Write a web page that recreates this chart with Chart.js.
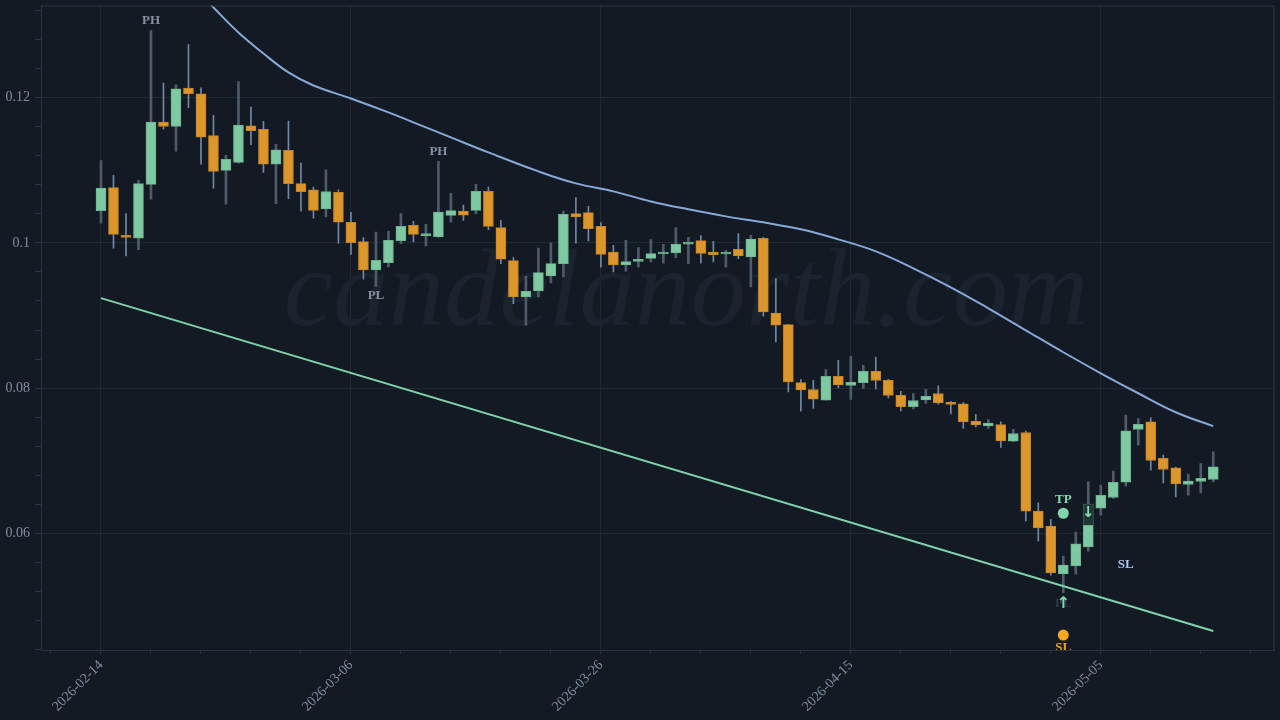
<!DOCTYPE html>
<html>
<head>
<meta charset="utf-8">
<script src="https://cdn.jsdelivr.net/npm/chart.js@4.4.1/dist/chart.umd.min.js"></script>
<style>
  html, body { margin: 0; padding: 0; background: #131a24; }
  #wrap { width: 1280px; height: 720px; }
</style>
</head>
<body>
<div id="wrap"><canvas id="chart" width="1280" height="720"></canvas></div>
<script>
// daily candles starting 2026-02-14 (x = day offset)
const startDate = "2026-02-14";

const open = [
  0.10443, 0.10759, 0.10099, 0.10066, 0.10804, 0.1166, 0.11601, 0.12128, 0.12051, 0.11474,
  0.10997, 0.11107, 0.11611, 0.1156, 0.11083, 0.11271, 0.10814, 0.10731, 0.10465, 0.10694,
  0.10282, 0.10016, 0.09626, 0.09728, 0.1003, 0.10241, 0.10099, 0.10085, 0.10378, 0.10437,
  0.10447, 0.10708, 0.10209, 0.09755, 0.09255, 0.09337, 0.09544, 0.09714, 0.10401, 0.10415,
  0.10227, 0.09874, 0.09695, 0.09746, 0.09787, 0.09846, 0.09863, 0.09983, 0.1003, 0.09874,
  0.09846, 0.09911, 0.09805, 0.10062, 0.09035, 0.08876, 0.08078, 0.07982, 0.07835, 0.08165,
  0.08037, 0.08078, 0.08234, 0.0811, 0.07904, 0.07748, 0.07839, 0.07927, 0.07807, 0.07787,
  0.07546, 0.07482, 0.07501, 0.07271, 0.07391, 0.06309, 0.06103, 0.05447, 0.05557, 0.05818,
  0.0635, 0.06497, 0.06708, 0.07432, 0.07537, 0.07034, 0.06904, 0.06676, 0.06717, 0.06745
];
const high = [
  0.1113, 0.10928, 0.10401, 0.10859, 0.12921, 0.12197, 0.12175, 0.12729, 0.12133, 0.11753,
  0.11203, 0.1222, 0.11867, 0.1167, 0.11354, 0.11674, 0.11097, 0.10767, 0.11006, 0.10731,
  0.10419, 0.10071, 0.10148, 0.10158, 0.10401, 0.10296, 0.10254, 0.1112, 0.1068, 0.1052,
  0.10804, 0.10767, 0.10309, 0.09797, 0.09539, 0.09928, 0.09997, 0.10437, 0.10621, 0.10502,
  0.10278, 0.09966, 0.10034, 0.09934, 0.10044, 0.09979, 0.10209, 0.10076, 0.10099, 0.10021,
  0.09897, 0.10126, 0.10103, 0.10076, 0.09508, 0.0888, 0.0812, 0.0811, 0.08257, 0.08385,
  0.0844, 0.08316, 0.08426, 0.08124, 0.07959, 0.07927, 0.07986, 0.08032, 0.0782, 0.07803,
  0.07642, 0.0757, 0.07537, 0.07436, 0.07409, 0.06423, 0.06195, 0.05691, 0.06021, 0.06712,
  0.06667, 0.06859, 0.07629, 0.07583, 0.07592, 0.07079, 0.06914, 0.06818, 0.06965, 0.07124
];
const low = [
  0.10272, 0.09928, 0.09819, 0.09906, 0.10602, 0.11564, 0.11262, 0.11858, 0.11083, 0.10753,
  0.10533, 0.11097, 0.1135, 0.10969, 0.10539, 0.10608, 0.10437, 0.10341, 0.10355, 0.09997,
  0.09842, 0.09502, 0.09402, 0.09668, 0.09989, 0.10011, 0.09956, 0.10076, 0.10286, 0.10309,
  0.10401, 0.10181, 0.09714, 0.09164, 0.08866, 0.09255, 0.09447, 0.0953, 0.09997, 0.10025,
  0.09667, 0.09599, 0.09612, 0.09667, 0.09736, 0.09722, 0.09797, 0.09714, 0.09722, 0.09736,
  0.09667, 0.09783, 0.09392, 0.0899, 0.08636, 0.07949, 0.07684, 0.07721, 0.07835, 0.08004,
  0.07845, 0.07996, 0.0799, 0.07867, 0.07688, 0.07715, 0.0779, 0.0778, 0.07647, 0.07446,
  0.07468, 0.07446, 0.07185, 0.07264, 0.06176, 0.05901, 0.05429, 0.05186, 0.05443, 0.05759,
  0.06254, 0.06484, 0.06653, 0.07216, 0.06873, 0.06698, 0.06506, 0.06529, 0.06561, 0.06712
];
const close = [
  0.10753, 0.10117, 0.10076, 0.10814, 0.1166, 0.11601, 0.1212, 0.12051, 0.11454, 0.10983,
  0.11148, 0.11619, 0.11542, 0.11083, 0.11281, 0.10814, 0.10704, 0.10447, 0.10704, 0.10286,
  0.10003, 0.09626, 0.09759, 0.10034, 0.10227, 0.10117, 0.10117, 0.10423, 0.10443, 0.10382,
  0.10708, 0.10227, 0.09777, 0.09255, 0.09333, 0.0959, 0.09714, 0.10392, 0.10355, 0.10195,
  0.09842, 0.09695, 0.09742, 0.09773, 0.09852, 0.09874, 0.09983, 0.10007, 0.09856, 0.09838,
  0.09869, 0.09819, 0.10052, 0.09049, 0.08866, 0.08087, 0.07977, 0.07849, 0.08165, 0.08045,
  0.08082, 0.08234, 0.08106, 0.079, 0.07748, 0.07831, 0.0789, 0.07798, 0.07776, 0.07537,
  0.07495, 0.07519, 0.07276, 0.07377, 0.06309, 0.0608, 0.05461, 0.05567, 0.0586, 0.06405,
  0.06525, 0.06705, 0.07413, 0.07505, 0.07006, 0.06882, 0.06684, 0.06722, 0.06759, 0.06918
];

// upper band (blue curve)
const bandDays = [7, 8, 9, 11, 13, 15, 17, 20, 23, 26, 28, 31, 35, 38, 41, 44, 47, 50, 53, 56, 59, 62, 65, 68, 71, 74, 77, 80, 83, 86, 89];
const bandValues = [
  0.13677, 0.13416, 0.13237, 0.12893, 0.12605, 0.12344, 0.12165, 0.11986, 0.11794, 0.11588,
  0.1145, 0.11244, 0.10983, 0.10818, 0.10708, 0.1057, 0.10461, 0.10364, 0.10282, 0.10186,
  0.10048, 0.09883, 0.0965, 0.09388, 0.091, 0.08797, 0.08495, 0.08206, 0.07931, 0.0767, 0.07478
];

// lower trend line
const trendDays = [0, 89];
const trendValues = [0.0924, 0.0466];

// markers
const pivotDays = [4, 27, 22];
const pivotTexts = ["PH", "PH", "PL"];
const tpDay = 77, tpValue = 0.0628;
const slDay = 77, slValue = 0.04605;
const exitDay = 79;
const slLabelDay = 82, slLabelValue = 0.0557;

const green = "#7fc9a2";
const orange = "#dc962c";

const days = open.map((_, i) => i);
const isUp = (i) => close[i] >= open[i];

function dayToDate(d) {
  const t = Date.parse(startDate + "T00:00:00Z") + d * 86400000;
  return new Date(t).toISOString().slice(0, 10);
}

const isMajorX = (v) => Math.abs(v % 20) < 1e-6;
const isMajorY = (v) => Math.abs(v / 0.02 - Math.round(v / 0.02)) < 1e-6;

const decorPlugin = {
  id: "decor",
  beforeDatasetsDraw(chart) {
    const ctx = chart.ctx;
    ctx.save();
    ctx.font = 'italic 111px "Liberation Serif"';
    ctx.fillStyle = "#1b242e";
    ctx.textAlign = "center";
    ctx.textBaseline = "alphabetic";
    ctx.fillText("candelanorth.com", 686, 325);
    ctx.restore();
  },
  afterDatasetsDraw(chart) {
    const { ctx, chartArea: a } = chart;
    const xs = chart.scales.x;
    const ys = chart.scales.y;
    ctx.save();
    ctx.beginPath();
    ctx.rect(a.left, a.top, a.right - a.left, a.bottom - a.top);
    ctx.clip();
    ctx.textAlign = "center";
    ctx.textBaseline = "middle";

    // pivots
    ctx.font = 'bold 13px "Liberation Serif"';
    ctx.fillStyle = "#8592a4";
    pivotDays.forEach((d, k) => {
      const x = xs.getPixelForValue(d);
      if (pivotTexts[k] === "PH") {
        ctx.fillText("PH", x, ys.getPixelForValue(high[d]) - 10);
      } else {
        ctx.fillText("PL", x, ys.getPixelForValue(low[d]) + 9);
      }
    });

    // entry arrow with faded PL
    const ex = xs.getPixelForValue(tpDay);
    const ey = ys.getPixelForValue(low[tpDay]) + 11;
    ctx.fillStyle = "#2f3a47";
    ctx.fillText("PL", ex, ey);
    ctx.font = 'bold 16px "DejaVu Sans"';
    ctx.fillStyle = "#7fd6aa";
    ctx.fillText("\u2191", ex, ey);

    // TP / SL labels
    ctx.font = 'bold 13px "Liberation Serif"';
    ctx.fillStyle = "#86d9b0";
    ctx.fillText("TP", ex, ys.getPixelForValue(tpValue) - 14);
    ctx.fillStyle = "#f0a12a";
    ctx.fillText("SL", xs.getPixelForValue(slDay), ys.getPixelForValue(slValue) + 13);
    ctx.fillStyle = "#a9c9f0";
    ctx.fillText("SL", xs.getPixelForValue(slLabelDay), ys.getPixelForValue(slLabelValue));

    // exit arrow on candle
    const xx = xs.getPixelForValue(exitDay);
    const top = ys.getPixelForValue(close[exitDay]);
    ctx.fillStyle = "#1e3634";
    ctx.fillRect(xx - 5, top, 10, 21);
    ctx.font = 'bold 15px "DejaVu Sans"';
    ctx.fillStyle = "#8fdcb6";
    ctx.fillText("\u2193", xx, top + 9);
    ctx.restore();

    // frame
    ctx.save();
    ctx.strokeStyle = "#2a3441";
    ctx.lineWidth = 1;
    ctx.strokeRect(a.left + 0.5, a.top + 0.5, a.right - a.left - 1, a.bottom - a.top);
    ctx.restore();
  },
};

new Chart(document.getElementById("chart"), {
  type: "bar",
  data: {
    datasets: [
      {
        type: "line",
        data: bandDays.map((d, k) => ({ x: d, y: bandValues[k] })),
        borderColor: "#86a9d8",
        borderWidth: 2,
        pointRadius: 0,
        tension: 0.4,
        order: 1,
      },
      {
        type: "line",
        data: trendDays.map((d, k) => ({ x: d, y: trendValues[k] })),
        borderColor: "#7fd3aa",
        borderWidth: 2,
        pointRadius: 0,
        order: 1,
      },
      {
        type: "line",
        data: [
          { x: tpDay, y: tpValue },
          { x: slDay, y: slValue },
        ],
        showLine: false,
        pointRadius: 5.5,
        pointBackgroundColor: ["#7fd6ab", "#f5a623"],
        pointBorderWidth: 0,
        order: 0,
      },
      {
        data: days.filter(isUp).map((i) => ({ x: i, y: [low[i], high[i]] })),
        backgroundColor: "#4d5b6a",
        barThickness: 2,
        grouped: false,
        order: 3,
      },
      {
        data: days.filter((i) => !isUp(i)).map((i) => ({ x: i, y: [low[i], high[i]] })),
        backgroundColor: "#7088a8",
        barThickness: 1,
        grouped: false,
        order: 3,
      },
      {
        data: days.map((i) => ({ x: i, y: [open[i], close[i]] })),
        backgroundColor: days.map((i) => (isUp(i) ? green : orange)),
        borderColor: days.map((i) => (isUp(i) ? "#6cb48e" : "#c48424")),
        borderWidth: 1,
        borderSkipped: false,
        barThickness: 10,
        minBarLength: 2,
        grouped: false,
        order: 2,
      },
    ],
  },
  options: {
    responsive: false,
    animation: false,
    layout: { padding: { top: 5, right: 4, left: 0, bottom: 0 } },
    plugins: {
      legend: { display: false },
      tooltip: { enabled: false },
    },
    scales: {
      x: {
        type: "linear",
        offset: false,
        min: -4.8,
        max: 93.9,
        afterFit(scale) {
          scale.height = 70;
          scale.paddingLeft = 0;
          scale.paddingRight = 0;
        },
        grid: {
          offset: false,
          color: (c) => (c.tick && isMajorX(c.tick.value) ? "#1d2a31" : "transparent"),
          tickColor: "#2a3441",
          tickLength: 4,
        },
        border: { color: "#2a3441" },
        ticks: {
          stepSize: 4,
          includeBounds: false,
          autoSkip: false,
          maxRotation: 45,
          minRotation: 45,
          padding: 3,
          color: "#7f8ea2",
          font: { family: "Liberation Serif", size: 14 },
          callback: (v) => (isMajorX(v) ? dayToDate(v) : ""),
        },
      },
      y: {
        min: 0.04399,
        max: 0.13265,
        afterFit(scale) {
          scale.width = 41;
          scale.paddingTop = 0;
          scale.paddingBottom = 0;
        },
        grid: {
          color: (c) => (c.tick && isMajorY(c.tick.value) ? "#1d2a31" : "transparent"),
          tickColor: "#2a3441",
          tickLength: 6,
        },
        border: { color: "#2a3441" },
        ticks: {
          stepSize: 0.004,
          includeBounds: false,
          autoSkip: false,
          padding: 5,
          color: "#7f8ea2",
          font: { family: "Liberation Serif", size: 14 },
          callback: (v) => (isMajorY(v) ? String(+v.toFixed(3)) : ""),
        },
      },
    },
  },
  plugins: [decorPlugin],
});
</script>
</body>
</html>
